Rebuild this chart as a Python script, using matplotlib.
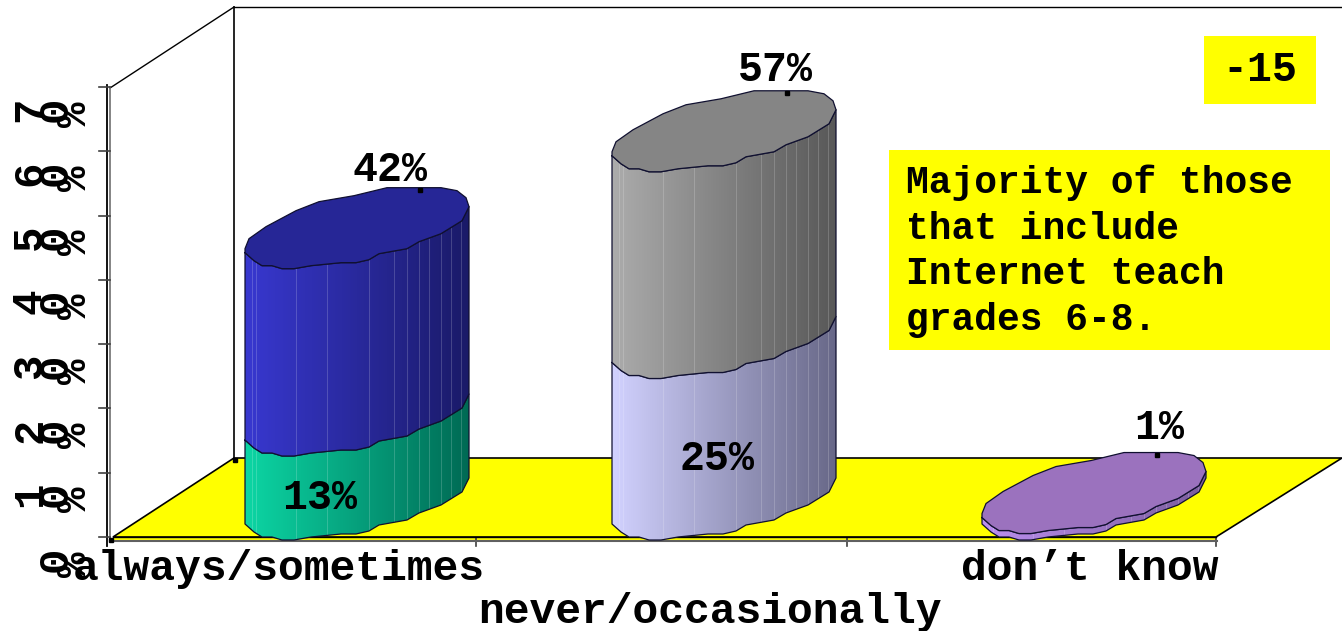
import numpy as np
import matplotlib
matplotlib.use("Agg")
import matplotlib.pyplot as plt
from matplotlib.colors import LinearSegmentedColormap
from matplotlib.patches import PathPatch, Polygon, Rectangle
from matplotlib.path import Path

# Data
categories = ["always/sometimes", "never/occasionally", "don\u2019t know"]
lower_values = [13, 25, 1]
top_values = [42, 57, 1]
lower_labels = ["13%", "25%", None]
top_labels = ["42%", "57%", "1%"]
tick_values = [0, 10, 20, 30, 40, 50, 60, 70]
note_lines = ["Majority of those", "that include", "Internet teach", "grades 6-8."]
badge = "-15"

# Colours: side gradient left/right and top face
lower_colors = [("#0CD6A4", "#006A54"), ("#D2D2FF", "#686888"), ("#BC90F0", "#7A5C9C")]
upper_colors = [("#3838D0", "#1A1A68"), ("#ACACAC", "#585858"), ("#BC90F0", "#7A5C9C")]
top_colors = ["#262696", "#858585", "#9B72BE"]

FONT = "Liberation Mono"
BAR_LEFT = [245, 612, 982]
BAR_W = 223
BASE_Y = 540    # lowest point of a cylinder standing on the floor
BAR_SCALE = 6.46
AXIS_ZERO = 537
AXIS_SCALE = 6.43

# label placement per bar
top_label_x = [145, 163, 177]
top_label_dy = [-99, -102, -106]
lower_label_x = [75, 105]

# jagged outline of the cylinder end, pixels relative to left edge / lowest point
outline_top = [(0, -20), (4, -30), (21, -42), (51, -58), (74, -67), (109, -73),
               (142, -81), (196, -81), (212, -78), (221, -71), (224, -62)]
outline_low = [(224, -62), (217, -48), (196, -35), (174, -27), (162, -20), (134, -15),
               (124, -9), (111, -6), (96, -6), (66, -3), (49, 0), (37, 0), (27, -3),
               (17, -3), (9, -8), (0, -16)]
facets = [7, 11, 51, 82, 124, 149, 162, 174, 184, 196, 206, 216]

fig = plt.figure(figsize=(13.42, 6.31), dpi=100)
ax = fig.add_axes([0, 0, 1, 1])
ax.set_xlim(0, 1342)
ax.set_ylim(631, 0)
ax.axis("off")


def arc(points, left, low):
    return [(left + x, low + y) for x, y in points]


def draw_side(left, low_bottom, low_top, colors, z):
    # side = upper arc of the segment, down the right side, lower arc back
    top_arc = arc(outline_low, left, low_top)[::-1]
    bot_arc = arc(outline_low, left, low_bottom)
    verts = top_arc + bot_arc + [top_arc[0]]
    path = Path(verts, closed=False)
    cmap = LinearSegmentedColormap.from_list("side", [colors[0], colors[1]])
    grad = np.linspace(0, 1, 256).reshape(1, -1)
    y0 = min(v[1] for v in verts)
    y1 = max(v[1] for v in verts)
    im = ax.imshow(grad, cmap=cmap, aspect="auto", extent=(left, left + BAR_W + 1, y1, y0), zorder=z)
    clip = PathPatch(path, facecolor="none", edgecolor="none", transform=ax.transData)
    ax.add_patch(clip)
    im.set_clip_path(clip)
    for fx in facets:
        ln, = ax.plot([left + fx, left + fx], [y0, y1], color="white", lw=0.7, alpha=0.18, zorder=z + 0.1)
        ln.set_clip_path(clip)
    xs, ys = zip(*verts)
    ax.plot(xs, ys, color="#101030", lw=0.9, zorder=z + 0.2)


# back wall and floor
ax.add_patch(Polygon([(113, 537), (234, 458), (1342, 458), (1216, 537)], closed=True,
                     facecolor="#FFFF00", edgecolor="black", lw=1.2, zorder=1))
ax.add_patch(Rectangle((113, 537), 1103, 3, facecolor="#FFFF00", edgecolor="none", zorder=1))
ax.plot([113, 1216], [537, 537], color="black", lw=1, zorder=1.5)
ax.plot([110, 1217], [540.5, 540.5], color="#606060", lw=1.5, zorder=1.5)
ax.plot([234, 234], [7, 458], color="black", lw=1.2, zorder=1)
ax.plot([234, 1342], [7, 7], color="black", lw=1, zorder=1)
ax.plot([110, 234], [88, 7], color="black", lw=1, zorder=1)
ax.plot([107, 107], [85, 546], color="black", lw=1.3, zorder=1)
ax.plot([110, 110], [87, 540], color="#707070", lw=1.2, zorder=1)
for x in [476, 847, 1216]:
    ax.plot([x, x], [538, 546], color="#404040", lw=1.2, zorder=1)
ax.plot([111, 235], [540, 460], ls="none", marker="s", ms=3.2, color="black", zorder=1.6)

# y ticks: characters turned a quarter and set side by side
for v in tick_values:
    y = AXIS_ZERO - v * AXIS_SCALE
    ax.plot([99, 110], [y, y], color="#404040", lw=1.2, zorder=1)
    digits = str(v)
    if v > 0:
        ax.text(30, y + 22, digits[0], rotation=90, family=FONT, weight="bold", fontsize=30.5,
                ha="center", va="center", zorder=2)
    ax.text(56, y + 22, digits[-1], rotation=90, family=FONT, weight="bold", fontsize=30.5,
            ha="center", va="center", zorder=2)
    ax.text(75, y + 27, "%", rotation=90, family=FONT, weight="bold", fontsize=30.5,
            ha="center", va="center", zorder=2)

# cylinders
for i, left in enumerate(BAR_LEFT):
    low_mid = BASE_Y - lower_values[i] * BAR_SCALE
    low_top = BASE_Y - top_values[i] * BAR_SCALE
    draw_side(left, BASE_Y, low_mid, lower_colors[i], 3)
    if top_values[i] > lower_values[i]:
        draw_side(left, low_mid, low_top, upper_colors[i], 4)
    face = arc(outline_top + outline_low[1:], left, low_top)
    ax.add_patch(Polygon(face, closed=True, facecolor=top_colors[i], edgecolor="#101030", lw=0.9, zorder=5))
    # leader mark under the top label
    ax.plot([left + 175], [low_top - 79], ls="none", marker="s", ms=3, color="black", zorder=6)
    ax.text(left + top_label_x[i], low_top + top_label_dy[i], top_labels[i], family=FONT, weight="bold",
            fontsize=30, ha="center", va="center", zorder=7)
    if lower_labels[i]:
        ax.text(left + lower_label_x[i], BASE_Y - lower_values[i] * BAR_SCALE / 2,
                lower_labels[i], family=FONT, weight="bold", fontsize=30, ha="center", va="center", zorder=7)

# category labels
ax.text(279, 569, categories[0], family=FONT, weight="bold", fontsize=31, ha="center", va="center", zorder=8)
ax.text(710, 612, categories[1], family=FONT, weight="bold", fontsize=31, ha="center", va="center", zorder=8)
ax.text(1090, 569, categories[2], family=FONT, weight="bold", fontsize=31, ha="center", va="center", zorder=8)

# yellow boxes
ax.add_patch(Rectangle((1204, 36), 112, 68, facecolor="#FFFF00", edgecolor="none", zorder=6))
ax.text(1260, 70, badge, family=FONT, weight="bold", fontsize=30, ha="center", va="center", zorder=7)
ax.add_patch(Rectangle((889, 150), 441, 200, facecolor="#FFFF00", edgecolor="none", zorder=6))
for line, y in zip(note_lines, [183, 229, 274, 320]):
    ax.text(906, y, line, family=FONT, weight="bold", fontsize=27.3, ha="left", va="center", zorder=7)

fig.savefig("out.png", dpi=100)
